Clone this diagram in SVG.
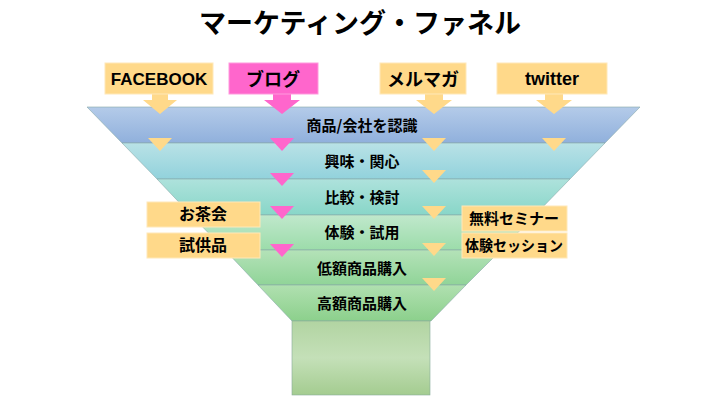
<svg xmlns="http://www.w3.org/2000/svg" width="728" height="409" viewBox="0 0 728 409">
<defs>
<style>
text{font-family:"Noto Sans CJK JP","Noto Sans",sans-serif;font-weight:bold;text-anchor:middle;fill:#000}
.t{font-size:15px}
.q{font-size:16px}
.s{font-size:18px}
.o{fill:#ffd98a}
.p{fill:#ff66cc}
.box{fill:#ffd98a;stroke:#ffe8b8;stroke-width:1}
.band{stroke:#8aa;stroke-width:0.6}
</style>
<linearGradient id="g1" x1="0" y1="0" x2="0" y2="1"><stop offset="0" stop-color="#b4cbe9"/><stop offset="1" stop-color="#90b0dc"/></linearGradient>
<linearGradient id="g2" x1="0" y1="0" x2="0" y2="1"><stop offset="0" stop-color="#b9e2e6"/><stop offset="1" stop-color="#92d2dc"/></linearGradient>
<linearGradient id="g3" x1="0" y1="0" x2="0" y2="1"><stop offset="0" stop-color="#aee2dc"/><stop offset="1" stop-color="#88d6c8"/></linearGradient>
<linearGradient id="g4" x1="0" y1="0" x2="0" y2="1"><stop offset="0" stop-color="#c0e8cc"/><stop offset="1" stop-color="#9cdcaa"/></linearGradient>
<linearGradient id="g5" x1="0" y1="0" x2="0" y2="1"><stop offset="0" stop-color="#b4e2b8"/><stop offset="1" stop-color="#90d498"/></linearGradient>
<linearGradient id="g6" x1="0" y1="0" x2="0" y2="1"><stop offset="0" stop-color="#b0e0b0"/><stop offset="1" stop-color="#8cd08c"/></linearGradient>
<linearGradient id="g7" x1="0" y1="0" x2="0" y2="1"><stop offset="0" stop-color="#b2d4a2"/><stop offset="0.5" stop-color="#c4e0b8"/><stop offset="1" stop-color="#a4cc90"/></linearGradient>
</defs>
<rect width="728" height="409" fill="#fff"/>
<text x="360" y="33" style="font-size:27px">マーケティング・ファネル</text>

<g id="funnel">
<polygon class="band" fill="url(#g1)" points="87,107 640,107 605,143 122,143"/>
<polygon class="band" fill="url(#g2)" points="122,143 605,143 570,179 157,179"/>
<polygon class="band" fill="url(#g3)" points="157,179 570,179 535,215 191,215"/>
<polygon class="band" fill="url(#g4)" points="191,215 535,215 501,250 225,250"/>
<polygon class="band" fill="url(#g5)" points="225,250 501,250 466,285 258,285"/>
<polygon class="band" fill="url(#g6)" points="258,285 466,285 431,321 292,321"/>
<rect x="292" y="321" width="138" height="74" fill="url(#g7)" stroke="#8a9" stroke-width="0.6"/>
<text class="t" x="362" y="131">商品/会社を認識</text>
<text class="t" x="362" y="167">興味・関心</text>
<text class="t" x="362" y="203">比較・検討</text>
<text class="t" x="362" y="238">体験・試用</text>
<text class="t" x="362" y="274">低額商品購入</text>
<text class="t" x="362" y="309">高額商品購入</text>
</g>

<g id="connectors">
<polygon class="o" points="152,94 168,94 168,100 177,100 160,114 143,100 152,100"/>
<polygon class="p" points="273,94 291,94 291,100 300,100 282,114 264,100 273,100"/>
<polygon class="o" points="425,94 443,94 443,100 452,100 434,114 416,100 425,100"/>
<polygon class="o" points="545,94 563,94 563,100 572,100 554,114 536,100 545,100"/>
<polygon class="o" points="148,138 172,138 160,151"/>
<polygon class="p" points="270,138 294,138 282,151"/>
<polygon class="o" points="422,138 446,138 434,151"/>
<polygon class="o" points="542,138 566,138 554,151"/>
<polygon class="p" points="270,173 294,173 282,186"/>
<polygon class="o" points="422,170 446,170 434,183"/>
<polygon class="p" points="270,206 294,206 282,219"/>
<polygon class="o" points="422,206 446,206 434,219"/>
<polygon class="p" points="270,244 294,244 282,257"/>
<polygon class="o" points="422,243 446,243 434,256"/>
<polygon class="o" points="422,278 446,278 434,291"/>
</g>

<g id="facebook"><rect class="box" x="105" y="63" width="108" height="31"/><text class="s" x="159" y="85" style="font-family:'Liberation Sans',sans-serif;font-size:17px">FACEBOOK</text></g>
<g id="blog"><rect x="229" y="63" width="89" height="31" fill="#ff66cc" stroke="#ff99dd"/><text class="s" x="273" y="86">ブログ</text></g>
<g id="melmaga"><rect class="box" x="380" y="63" width="86" height="31"/><text class="s" x="423" y="86">メルマガ</text></g>
<g id="twitter"><rect class="box" x="497" y="63" width="110" height="31"/><text class="s" x="552" y="85" style="font-family:'Liberation Sans',sans-serif">twitter</text></g>
<g id="ochakai"><rect class="box" x="147" y="202" width="113" height="25"/><text class="q" x="203" y="220">お茶会</text></g>
<g id="shikyohin"><rect class="box" x="147" y="233" width="113" height="25"/><text class="q" x="203" y="251">試供品</text></g>
<g id="seminar"><rect class="box" x="462" y="206" width="105" height="25"/><text class="t" x="514" y="224">無料セミナー</text></g>
<g id="session"><rect class="box" x="462" y="233" width="105" height="25"/><text class="t" x="514" y="251" textLength="98" lengthAdjust="spacingAndGlyphs">体験セッション</text></g>
</svg>
